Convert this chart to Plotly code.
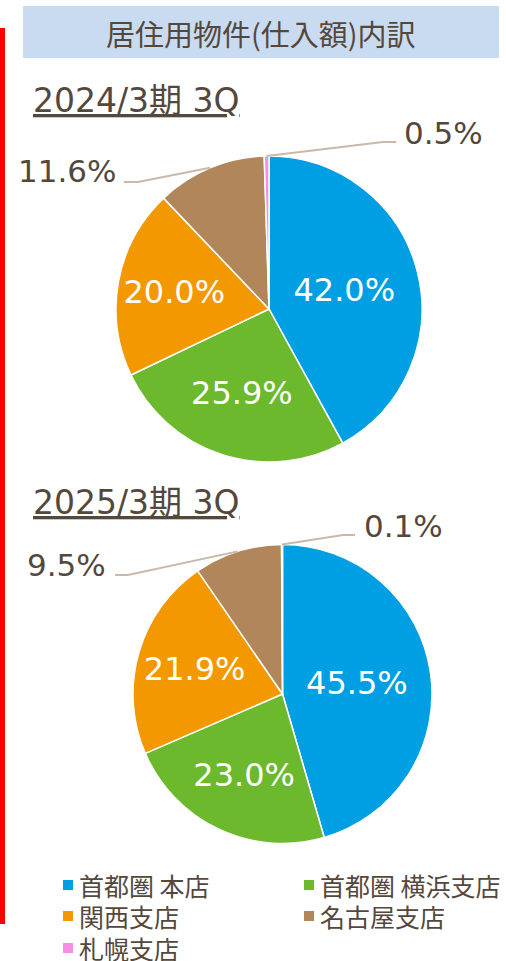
import math
import plotly.graph_objects as go

W, H = 506, 961

# ---- data ----
categories = ["首都圏 本店", "首都圏 横浜支店", "関西支店", "名古屋支店", "札幌支店"]
values_2024 = [42.0, 25.9, 20.0, 11.6, 0.5]
values_2025 = [45.5, 23.0, 21.9, 9.5, 0.1]
period_titles = ["2024/3期 3Q", "2025/3期 3Q"]
chart_title = "居住用物件(仕入額)内訳"

colors = ["#009FE3", "#6DB92D", "#F39800", "#B1865A", "#F58EE6"]
TEXT = "#54473B"
LEADER = "#C9B9A8"
CJK = "Noto Sans CJK JP"
NUM = "DejaVu Sans, Noto Sans CJK JP"


def px(x):
    return x / W


def py(y):
    return 1 - y / H


# pie geometry (pixels): center x, center y, radius
pies = [
    dict(vals=values_2024, cx=269, cy=309, r=153, title=period_titles[0], ty=100,
         outside={3: dict(elbow=(138, 182), end=(124, 182), tx=118, tyc=171, side="right"),
                  4: dict(elbow=(383, 142), end=(396, 142), tx=402, tyc=133, side="left")}),
    dict(vals=values_2025, cx=282.5, cy=694, r=149.5, title=period_titles[1], ty=502,
         outside={3: dict(elbow=(128, 575), end=(115, 575), tx=108, tyc=565, side="right"),
                  4: dict(elbow=(343, 535), end=(355, 535), tx=362, tyc=526, side="left")}),
]

fig = go.Figure()
shapes = []
annotations = []

for p in pies:
    vals = p["vals"]
    textpos = ["none" if i in p["outside"] else "inside" for i in range(len(vals))]
    fig.add_trace(go.Pie(
        labels=categories,
        values=vals,
        sort=False,
        direction="clockwise",
        rotation=0,
        marker=dict(colors=colors, line=dict(color="white", width=1.5)),
        texttemplate="%{value:.1f}%",
        textposition=textpos,
        insidetextorientation="horizontal",
        insidetextfont=dict(color="white", size=32, family=NUM),
        domain=dict(x=[px(p["cx"] - p["r"]), px(p["cx"] + p["r"])],
                    y=[py(p["cy"] + p["r"]), py(p["cy"] - p["r"])]),
        showlegend=False,
        hoverinfo="label+percent",
    ))
    total = sum(vals)
    cum = 0.0
    for i, v in enumerate(vals):
        mid = (cum + v / 2) / total
        cum += v
        if i not in p["outside"]:
            continue
        o = p["outside"][i]
        th = 2 * math.pi * mid
        ax = p["cx"] + p["r"] * math.sin(th)
        ay = p["cy"] - p["r"] * math.cos(th)
        ex, ey = o["elbow"]
        nx, ny = o["end"]
        shapes.append(dict(
            type="path", xref="paper", yref="paper",
            path=f"M {px(ax)},{py(ay)} L {px(ex)},{py(ey)} L {px(nx)},{py(ny)}",
            line=dict(color=LEADER, width=2),
        ))
        annotations.append(dict(
            x=px(o["tx"]), y=py(o["tyc"]), xref="paper", yref="paper",
            text=f"{v:.1f}%", showarrow=False,
            xanchor="right" if o["side"] == "right" else "left", yanchor="middle",
            font=dict(size=31, color=TEXT, family=NUM),
        ))
    # period subtitle
    annotations.append(dict(
        x=px(31), y=py(p["ty"]), xref="paper", yref="paper",
        text=f"<u>{p['title']}</u>", showarrow=False,
        xanchor="left", yanchor="middle",
        font=dict(size=33, color=TEXT, family=NUM),
    ))

# title box
shapes.append(dict(type="rect", xref="paper", yref="paper",
                   x0=px(23), x1=px(499), y0=py(58), y1=py(6),
                   fillcolor="#C9DBF0", line=dict(width=0), layer="below"))
annotations.append(dict(x=px(261), y=py(33), xref="paper", yref="paper",
                        text=chart_title, showarrow=False,
                        xanchor="center", yanchor="middle",
                        font=dict(size=29, color=TEXT, family=CJK)))

# red vertical bar
shapes.append(dict(type="rect", xref="paper", yref="paper",
                   x0=0, x1=px(5), y0=py(924), y1=py(28),
                   fillcolor="#FF0000", line=dict(width=0)))

# legend (manual)
legend_pos = [(68, 885), (309, 885), (68, 916), (309, 916), (68, 948)]
for name, col, (lx, ly) in zip(categories, colors, legend_pos):
    s = 5
    shapes.append(dict(type="rect", xref="paper", yref="paper",
                       x0=px(lx - s), x1=px(lx + s), y0=py(ly + s), y1=py(ly - s),
                       fillcolor=col, line=dict(width=0)))
    annotations.append(dict(x=px(lx + 9), y=py(ly), xref="paper", yref="paper",
                            text=name, showarrow=False,
                            xanchor="left", yanchor="middle",
                            font=dict(size=25, color=TEXT, family=CJK)))

fig.update_layout(
    width=W, height=H,
    margin=dict(l=0, r=0, t=0, b=0),
    paper_bgcolor="white", plot_bgcolor="white",
    shapes=shapes, annotations=annotations,
    font=dict(family=CJK, color=TEXT),
)

fig.write_html(
    "out.html",
    config={"displayModeBar": False},
    post_script="document.body.style.margin='0';document.body.style.overflow='hidden';",
)
